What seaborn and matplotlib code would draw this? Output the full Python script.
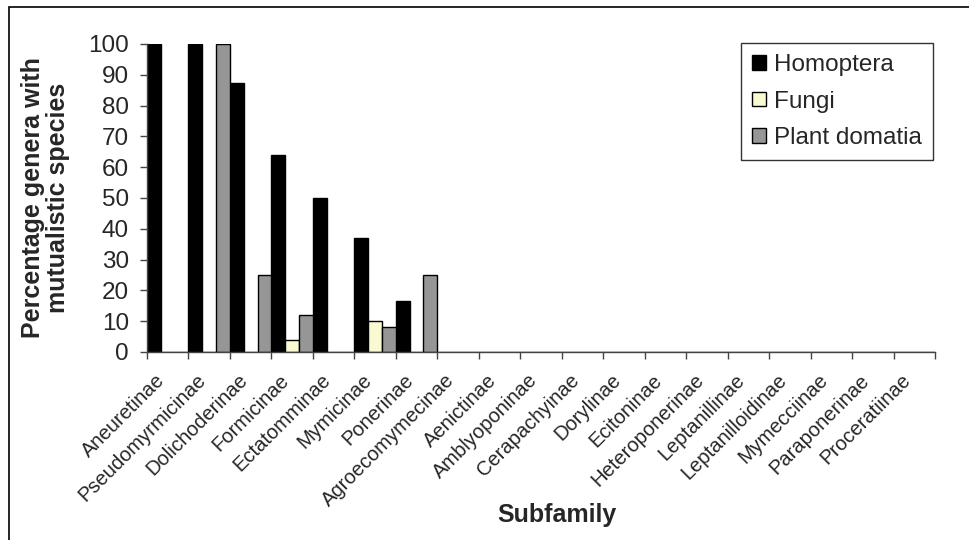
import pandas as pd
import matplotlib.pyplot as plt
import matplotlib.transforms as mtransforms
import seaborn as sns
from matplotlib.patches import Rectangle

subfamilies = ["Aneuretinae", "Pseudomyrmicinae", "Dolichoderinae", "Formicinae",
               "Ectatomminae", "Mymicinae", "Ponerinae", "Agroecomymecinae",
               "Aenictinae", "Amblyoponinae", "Cerapachyinae", "Dorylinae",
               "Ecitoninae", "Heteroponerinae", "Leptanillinae", "Leptanilloidinae",
               "Mymecciinae", "Paraponerinae", "Proceratiinae"]
homoptera = [100, 100, 87.5, 64, 50, 37, 16.7, 0, 0, 0, 0, 0, 0, 0, 0, 0, 0, 0, 0]
fungi = [0, 0, 0, 4, 0, 10, 0, 0, 0, 0, 0, 0, 0, 0, 0, 0, 0, 0, 0]
plant_domatia = [0, 100, 25, 12, 0, 8, 25, 0, 0, 0, 0, 0, 0, 0, 0, 0, 0, 0, 0]
series = ["Homoptera", "Fungi", "Plant domatia"]
colors = ["#000000", "#FFFFCC", "#969696"]

df = pd.DataFrame({"Subfamily": subfamilies, "Homoptera": homoptera,
                   "Fungi": fungi, "Plant domatia": plant_domatia})
long = df.melt(id_vars="Subfamily", var_name="Resource", value_name="Percent")

sns.set_style("white")
plt.rcParams['font.family'] = ['Liberation Sans', 'DejaVu Sans']

fig = plt.figure(figsize=(9.69, 5.40), dpi=100)
ax = fig.add_axes([147 / 969, 1 - 352 / 540, 788 / 969, 308 / 540])

sns.barplot(data=long, x="Subfamily", y="Percent", hue="Resource",
            hue_order=series, order=subfamilies, palette=colors,
            width=1.0, edgecolor="black", linewidth=1.0, ax=ax)

ax.set_xlim(-0.5, len(subfamilies) - 0.5)
ax.set_ylim(0, 100)
ax.set_yticks(range(0, 101, 10))
ax.tick_params(axis='y', labelsize=17.5, length=5, width=1, direction='out',
               left=True, color='#444444', pad=8)

# category boundaries get tick marks, labels sit at centres
ax.set_xticks([i - 0.5 for i in range(len(subfamilies) + 1)], minor=True)
ax.tick_params(axis='x', which='minor', length=5, width=1, direction='out',
               bottom=True, color='#444444')
ax.set_xticks(range(len(subfamilies)))
ax.set_xticklabels(subfamilies, rotation=45, ha='right', rotation_mode='anchor',
                   fontsize=14.5)
ax.tick_params(axis='x', which='major', length=0, pad=9)
# nudge rotated labels left/down like the original
offset = mtransforms.ScaledTranslation(-0.13, -0.06, fig.dpi_scale_trans)
for lab in ax.xaxis.get_majorticklabels():
    lab.set_transform(lab.get_transform() + offset)

for side in ['top', 'right']:
    ax.spines[side].set_visible(False)
for side in ['left', 'bottom']:
    ax.spines[side].set_color('#444444')
    ax.spines[side].set_linewidth(1)

ax.set_ylabel("Percentage genera with\nmutualistic species", fontsize=18,
              fontweight='bold', linespacing=1.05)
ax.yaxis.set_label_coords(-(147 - 70) / 788, 0.5)
ax.set_xlabel("Subfamily", fontsize=18, fontweight='bold')
ax.xaxis.set_label_coords((557 - 147) / 788, -(503 - 352) / 308)

leg = ax.legend(loc='upper right', bbox_to_anchor=(933 / 969, 1 - 43 / 540),
                bbox_transform=fig.transFigure, fontsize=17.5, frameon=True,
                fancybox=False, edgecolor='black', handlelength=0.55,
                handleheight=0.55, handletextpad=0.35, labelspacing=0.6,
                borderpad=0.45, borderaxespad=0)
leg.get_frame().set_linewidth(1)

# outer chart frame, cut off at the right and bottom edges
fig.patches.append(Rectangle((8.5 / 969, -0.05), 1.0, 1 - 7 / 540 + 0.05,
                             transform=fig.transFigure, fill=False,
                             edgecolor='black', linewidth=1.2))

fig.savefig("out.png", dpi=100)
